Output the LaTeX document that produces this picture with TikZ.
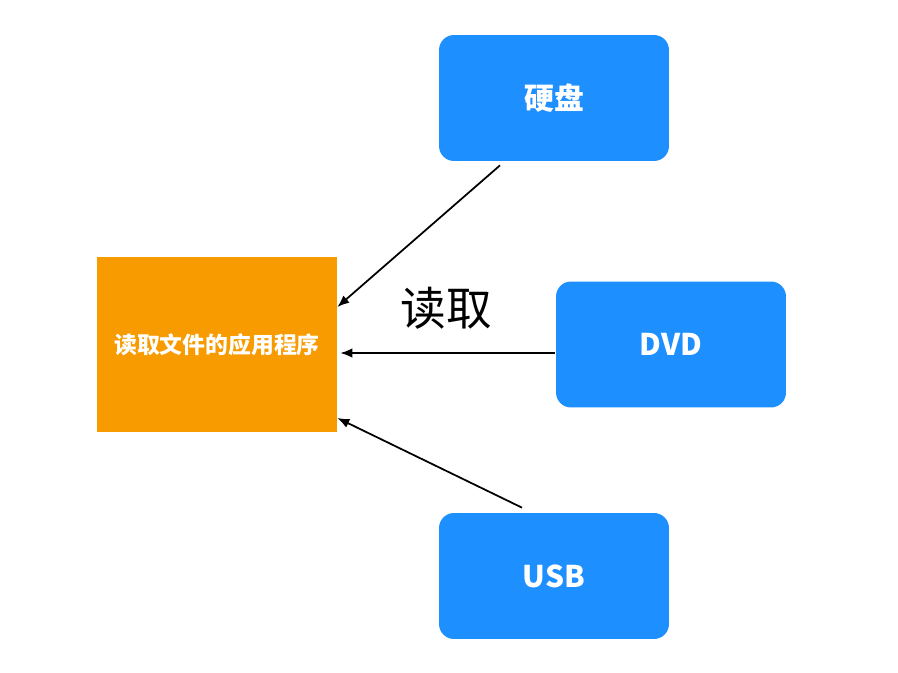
\documentclass[tikz,border=0pt]{standalone}
\usepackage{fontspec}
\usepackage{xcolor}
\usepackage{tikz}
\usetikzlibrary{arrows.meta,positioning}
\newfontfamily\cjk{Noto Sans CJK SC}
\setsansfont{Noto Sans CJK SC}
\definecolor{appOrange}{HTML}{F79B00}
\definecolor{devBlue}{HTML}{1E8FFF}

\begin{document}
\begin{tikzpicture}[
    x=0.02cm, y=-0.02cm,
    app/.style={fill=appOrange, text=white, align=center, minimum width=4.8cm, minimum height=3.5cm, font=\cjk\bfseries\fontsize{13}{15}\selectfont},
    device/.style={fill=devBlue, rounded corners=0.3cm, text=white, align=center, minimum width=4.6cm, minimum height=2.52cm, font=\cjk\bfseries\fontsize{17}{20}\selectfont},
    arrow/.style={-{Latex[length=2.4mm,width=1.9mm]}, line width=1pt}
]
    \useasboundingbox (0,0) rectangle (898,672);

    \node[app] (reader) at (217,344.5) {读取文件的应用程序};
    \node[device] (hdd) at (554,98) {硬盘};
    \node[device] (dvd) at (671,344.5) {DVD};
    \node[device] (usb) at (554,576) {USB};

    \node[font=\cjk\fontsize{26}{30}\selectfont] (readlbl) at (446,308) {读取};

    \draw[arrow] ([xshift=-1.08cm,yshift=-0.08cm]hdd.south) -- ([yshift=0.75cm]reader.east);
    \draw[arrow] ([xshift=-0.02cm,yshift=-0.17cm]dvd.west) -- ([xshift=0.06cm,yshift=-0.17cm]reader.east);
    \draw[arrow] ([xshift=-0.64cm,yshift=0.1cm]usb.north) -- ([yshift=-1.47cm]reader.east);
\end{tikzpicture}
\end{document}
